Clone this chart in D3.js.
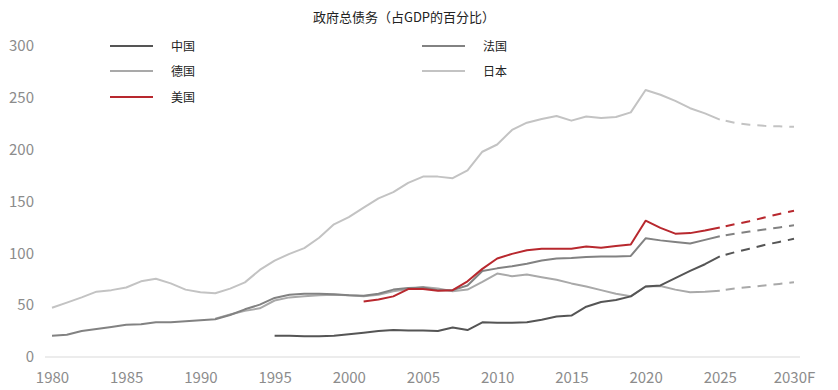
<!DOCTYPE html>
<html>
<head>
<meta charset="utf-8">
<script src="https://cdn.jsdelivr.net/npm/d3@7"></script>
<style>
  body { margin: 0; background: #fff; }
  svg { font-family: "Noto Sans CJK SC", "Noto Sans", sans-serif; }
</style>
</head>
<body>
<div id="chart"></div>
<script>
// years 1980..2025 (actual), forecast 2025..2030
var years = d3.range(1980, 2026);
var fcYears = [2025, 2026, 2027, 2028, 2029, 2030];

var xTicks = [1980, 1985, 1990, 1995, 2000, 2005, 2010, 2015, 2020, 2025, 2030];
var xTickLabels = ["1980", "1985", "1990", "1995", "2000", "2005", "2010", "2015", "2020", "2025", "2030F"];
var yTicks = [0, 50, 100, 150, 200, 250, 300];

var N = null;
// 中国 (from 1995)
var china = [N,N,N,N,N,N,N,N,N,N,N,N,N,N,N,
  20.5,20.5,20,20,20.5,22,23.5,25,26,25.5,25.5,25,28.5,26,33.5,
  33,33,33.5,36,39,40,48.5,53,55,58.5,68,69,76,83,89.5,97];
var chinaF = [97, 101, 104.5, 108, 111, 114];

// 法国
var france = [20.5,21.5,25,27,29,31,31.5,33.5,33.5,34.5,35.5,36.5,40.5,46,50.5,
  57,60,61,61,60.5,59.5,59,61,65,66.5,67,64.5,64.5,69,83,
  85.5,87.5,90,93,95,95.5,96.5,97,97,97.5,114.5,112.5,111,109.5,113,116.5];
var franceF = [116.5, 119, 121, 123, 125, 127];

// 德国 (from 1991)
var germany = [N,N,N,N,N,N,N,N,N,N,N,37,41,44.5,47,
  54.5,57.5,58.5,59.5,60,59.5,58.5,60,63.5,65.5,67.5,66,63.5,65,72.5,
  80.5,78,79.5,77,74.5,71,68,64.5,61,58.5,68,68.5,65,62.5,63,64];
var germanyF = [64, 66, 67.5, 69, 70.5, 72];

// 日本
var japan = [47.5,52.5,57.5,63,64.5,67,73,75.5,71,65,62.5,61.5,66,72,84,
  93,99.5,105,115,128,135,144,153,159,168,174,174,172.5,180,198,
  205,219,226,229.5,232.5,228,232,230.5,231.5,236,257.5,253,247,240,235,229];
var japanF = [229, 226, 224, 223, 222.5, 222];

// 美国 (from 2001)
var usa = [N,N,N,N,N,N,N,N,N,N,N,N,N,N,N,N,N,N,N,N,N,
  53.5,55.5,58.5,65.5,65.5,64,64.5,73,85,
  95,99.5,103,104.5,104.5,104.5,106.5,105.5,107,108.5,131.5,124.5,119,119.5,122,125];
var usaF = [125, 128, 131, 134.5, 138, 141];

var series = [
  {name: "日本", values: japan, forecast: japanF, color: "#c3c3c3"},
  {name: "德国", values: germany, forecast: germanyF, color: "#a9a9a9"},
  {name: "法国", values: france, forecast: franceF, color: "#828282"},
  {name: "中国", values: china, forecast: chinaF, color: "#555555"},
  {name: "美国", values: usa, forecast: usaF, color: "#b8282e"}
];

var width = 838, height = 390;

var svg = d3.select("#chart").append("svg")
  .attr("width", width)
  .attr("height", height);

var x = d3.scaleLinear().domain([1980, 2030]).range([52, 794]);
var y = d3.scaleLinear().domain([0, 300]).range([357, 46]);

// baseline
svg.append("line")
  .attr("x1", x.range()[0] - 7)
  .attr("x2", x.range()[1] + 6)
  .attr("y1", y(0))
  .attr("y2", y(0))
  .attr("stroke", "#d9d9d9")
  .attr("stroke-width", 1);

// y axis
var yAxis = svg.append("g")
  .attr("transform", "translate(44,0)")
  .call(d3.axisLeft(y).tickValues(yTicks).tickSize(0).tickPadding(10));
yAxis.select(".domain").remove();
yAxis.selectAll("text")
  .attr("fill", "#8c8c8c")
  .style("font-size", "15px")
  .style("font-family", "'Noto Sans CJK SC', sans-serif");

// x axis
var xAxis = svg.append("g")
  .attr("transform", "translate(0," + y(0) + ")")
  .call(d3.axisBottom(x).tickValues(xTicks).tickSize(0).tickPadding(15)
    .tickFormat(function(d, i){ return xTickLabels[i]; }));
xAxis.select(".domain").remove();
xAxis.selectAll("text")
  .attr("fill", "#8c8c8c")
  .style("font-size", "15px")
  .style("font-family", "'Noto Sans CJK SC', sans-serif");

var line = d3.line()
  .defined(function(d){ return d[1] != null; })
  .x(function(d){ return x(d[0]); })
  .y(function(d){ return y(d[1]); });

series.forEach(function(s){
  svg.append("path")
    .datum(years.map(function(yr, i){ return [yr, s.values[i]]; }))
    .attr("d", line)
    .attr("fill", "none")
    .attr("stroke", s.color)
    .attr("stroke-width", 2)
    .attr("stroke-linejoin", "round");

  svg.append("path")
    .datum(fcYears.map(function(yr, i){ return [yr, s.forecast[i]]; }))
    .attr("d", line)
    .attr("fill", "none")
    .attr("stroke", s.color)
    .attr("stroke-width", 2)
    .attr("stroke-dasharray", "9,7")
    .attr("stroke-dashoffset", -6);
});

// title
svg.append("text")
  .attr("x", 404)
  .attr("y", 22)
  .attr("text-anchor", "middle")
  .attr("fill", "#222")
  .style("font-size", "13px")
  .text("政府总债务（占GDP的百分比）");

// legend
var legendItems = [
  {name: "中国", color: "#555555", lx: 110, ly: 46},
  {name: "德国", color: "#a9a9a9", lx: 110, ly: 71},
  {name: "美国", color: "#b8282e", lx: 110, ly: 97},
  {name: "法国", color: "#828282", lx: 422, ly: 46},
  {name: "日本", color: "#c3c3c3", lx: 422, ly: 71}
];
var legend = svg.append("g");
legendItems.forEach(function(d){
  legend.append("line")
    .attr("x1", d.lx).attr("x2", d.lx + 43)
    .attr("y1", d.ly).attr("y2", d.ly)
    .attr("stroke", d.color)
    .attr("stroke-width", 2);
  legend.append("text")
    .attr("x", d.lx + 61)
    .attr("y", d.ly + 5)
    .attr("fill", "#222")
    .style("font-size", "12px")
    .text(d.name);
});
</script>
</body>
</html>
